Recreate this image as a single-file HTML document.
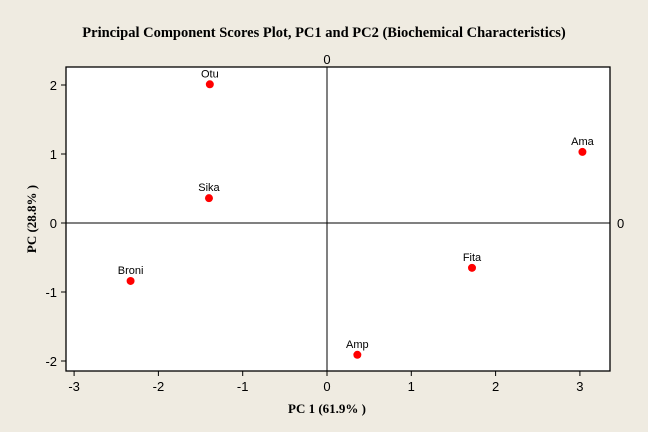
<!DOCTYPE html>
<html><head><meta charset="utf-8"><style>
body{margin:0;background:#efebe1;}
svg{display:block;font-family:"Liberation Sans",sans-serif;}
</style></head><body>
<svg id="chart" width="648" height="432">
<rect width="648" height="432" fill="#efebe1"/>
<text x="324" y="37" text-anchor="middle" font-family="Liberation Serif" font-weight="bold" font-size="14.5">Principal Component Scores Plot, PC1 and PC2 (Biochemical Characteristics)</text>
<rect x="66" y="67" width="544" height="304" fill="#fff" stroke="#000" stroke-width="1.3"/>
<g id="axes"></g>
<g id="marks"></g>
<text x="327" y="413" text-anchor="middle" font-family="Liberation Serif" font-weight="bold" font-size="13">PC 1 (61.9% )</text>
<text transform="translate(36,219) rotate(-90)" text-anchor="middle" font-family="Liberation Serif" font-weight="bold" font-size="13">PC (28.8% )</text>
</svg>
<script>
const names=["Otu","Sika","Broni","Amp","Fita","Ama"];
const pc1=[-1.39,-1.40,-2.33,0.36,1.72,3.03];
const pc2=[2.01,0.36,-0.84,-1.91,-0.65,1.03];
const xTicks=[-3,-2,-1,0,1,2,3];
const yTicks=[-2,-1,0,1,2];
const X=v=>327+v*84.3, Y=v=>223-v*69;
const NS="http://www.w3.org/2000/svg";
function mk(t,a,p){const e=document.createElementNS(NS,t);for(const k in a)e.setAttribute(k,a[k]);p.appendChild(e);return e;}
const ax=document.getElementById('axes'),mg=document.getElementById('marks');
xTicks.forEach(v=>{
 const l=mk('line',{x1:X(v),x2:X(v),y1:371,y2:376,stroke:'#000'},ax);
 
 
 const t=mk('text',{x:X(v),y:391,'text-anchor':'middle','font-size':13},ax);t.textContent=v;
 
 
});
yTicks.forEach(v=>{
 const l=mk('line',{x1:61,x2:66,y1:Y(v),y2:Y(v),stroke:'#000'},ax);
 
 
 const t=mk('text',{x:57,y:Y(v)+5,'text-anchor':'end','font-size':13},ax);t.textContent=v;
 
 
});
const rl=mk('line',{x1:X(0),x2:X(0),y1:67,y2:371,stroke:'#000'},ax);


const hl=mk('line',{x1:66,x2:610,y1:Y(0),y2:Y(0),stroke:'#000'},ax);


const z1=mk('text',{x:X(0),y:64,'text-anchor':'middle','font-size':13},ax);z1.textContent='0';


const z2=mk('text',{x:617,y:Y(0)+5,'font-size':13},ax);z2.textContent='0';


names.forEach((n,i)=>{
 const c=mk('circle',{cx:X(pc1[i]),cy:Y(pc2[i]),r:4,fill:'#f00'},mg);
 
 
 const t=mk('text',{x:X(pc1[i]),y:Y(pc2[i])-7,'text-anchor':'middle','font-size':11},mg);t.textContent=n;
 
 
});
</script>
</body></html>
